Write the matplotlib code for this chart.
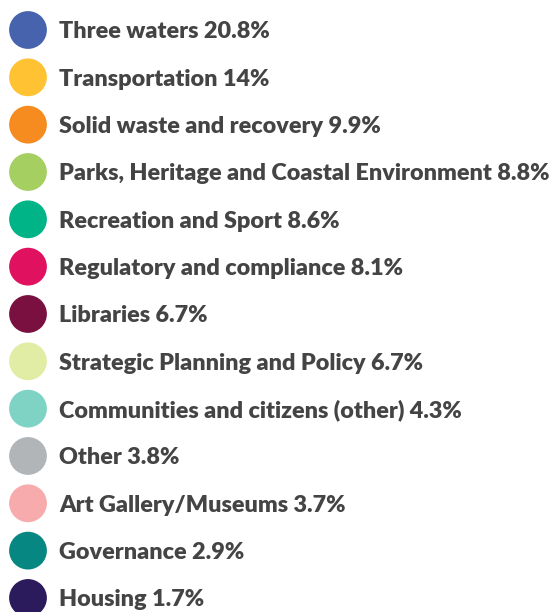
import matplotlib
matplotlib.use("Agg")
import matplotlib.pyplot as plt

labels = [
    "Three waters", "Transportation", "Solid waste and recovery",
    "Parks, Heritage and Coastal Environment", "Recreation and Sport",
    "Regulatory and compliance", "Libraries", "Strategic Planning and Policy",
    "Communities and citizens (other)", "Other", "Art Gallery/Museums",
    "Governance", "Housing",
]
shares = ["20.8", "14", "9.9", "8.8", "8.6", "8.1", "6.7", "6.7",
          "4.3", "3.8", "3.7", "2.9", "1.7"]
colors = ["#4863ae", "#ffc232", "#f68c1f", "#a5cf61", "#00b487", "#e0115f",
          "#7a1040", "#e1eda5", "#7fd3c5", "#b1b5b8", "#f8abad", "#078781",
          "#2b1a5c"]

W, H = 552, 612
row_h = 47.33
top = 30

fig = plt.figure(figsize=(W / 100, H / 100), dpi=100)
ax = fig.add_axes([0, 0, 1, 1])
ax.set_axis_off()
ax.set_xlim(0, W)
ax.set_ylim((H - top) / row_h, -top / row_h)

rows = list(range(len(labels)))
ax.scatter([28] * len(rows), rows, s=740, c=colors, linewidths=0)

for i, (lab, pct) in enumerate(zip(labels, shares)):
    ax.text(59, i, f"{lab} {pct}%", fontsize=16.85, fontweight="heavy",
            family=["Lato", "DejaVu Sans"], color="#444444",
            va="center_baseline", ha="left")

fig.savefig("out.png", dpi=100)
